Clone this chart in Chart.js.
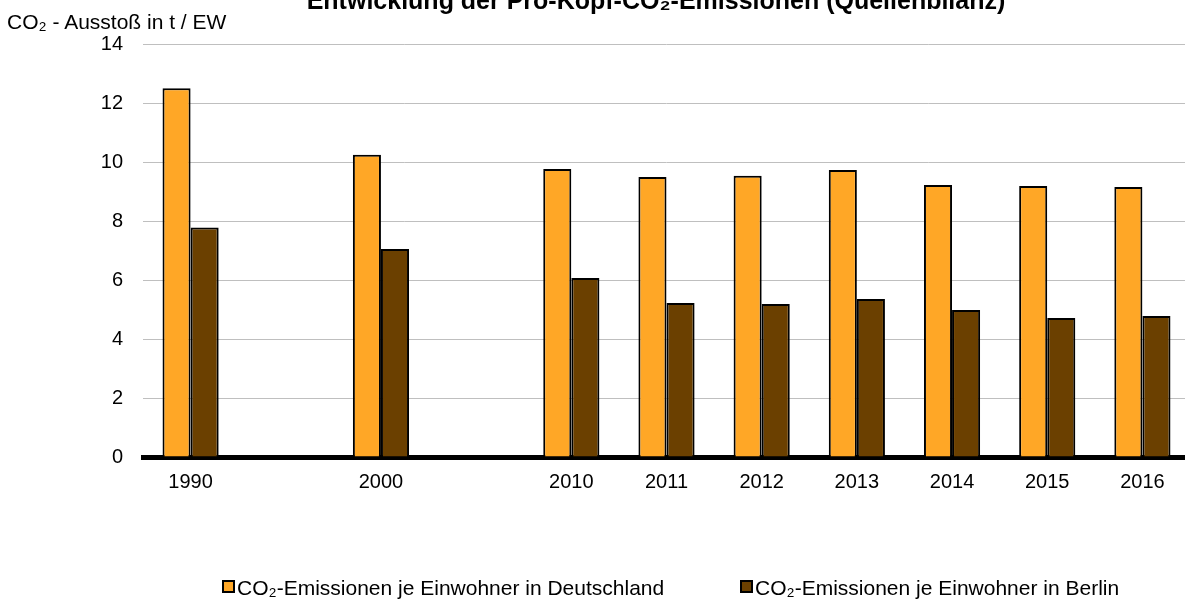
<!DOCTYPE html>
<html>
<head>
<meta charset="utf-8">
<script src="https://cdn.jsdelivr.net/npm/chart.js@4.4.1/dist/chart.umd.min.js"></script>
<style>
    html, body { margin: 0; padding: 0; background: #fff; overflow: hidden; }
    #wrap { position: relative; width: 1185px; height: 603px; overflow: hidden; font-family: "Liberation Sans", Arial, sans-serif; color: #000; }
    #box { position: absolute; left: 0; top: 0; width: 1192px; height: 603px; }
    #title { position: absolute; left: 0; width: 1312px; top: -14px; text-align: center; font-weight: bold; font-size: 25px; white-space: nowrap; }
    #yTitle { position: absolute; left: 7px; top: 10px; font-size: 21px; white-space: nowrap; }
    .leg { position: absolute; top: 576px; font-size: 21px; white-space: nowrap; }
    .leg span.sw { display: inline-block; width: 9px; height: 9px; border: 2px solid #000; margin-right: 2px; vertical-align: 2px; }
</style>
</head>
<body>
<div id="wrap">
    <div id="box"><canvas id="myChart" width="1192" height="603"></canvas></div>
    <div id="title">Entwicklung der Pro-Kopf-CO₂-Emissionen (Quellenbilanz)</div>
    <div id="yTitle">CO₂ - Ausstoß in t / EW</div>
    <div class="leg" style="left:222px"><span class="sw" style="background:#FFA726"></span>CO₂-Emissionen je Einwohner in Deutschland</div>
    <div class="leg" style="left:740px"><span class="sw" style="background:#6B4000"></span>CO₂-Emissionen je Einwohner in Berlin</div>
</div>
<script>
// Jahre (leere Kategorien als Lücken wie im Original)
const years = ['1990', '', '2000', '', '2010', '2011', '2012', '2013', '2014', '2015', '2016'];
const deutschland = [12.5, null, 10.25, null, 9.76, 9.49, 9.53, 9.73, 9.22, 9.19, 9.15];
const berlin = [7.78, null, 7.05, null, 6.07, 5.22, 5.19, 5.36, 4.98, 4.71, 4.78];
const yTicks = [0, 2, 4, 6, 8, 10, 12, 14];
const seriesNames = ['CO₂-Emissionen je Einwohner in Deutschland', 'CO₂-Emissionen je Einwohner in Berlin'];

const data = {
    labels: years,
    datasets: [{
        label: seriesNames[0],
        data: deutschland,
        backgroundColor: '#FFA726',
        borderColor: '#000',
        borderWidth: 2,
        categoryPercentage: 0.59,
        barPercentage: 1
    }, {
        label: seriesNames[1],
        data: berlin,
        backgroundColor: '#6B4000',
        borderColor: '#000',
        borderWidth: 2,
        categoryPercentage: 0.59,
        barPercentage: 1
    }]
};

const config = {
    type: 'bar',
    data: data,
    options: {
        responsive: false,
        animation: false,
        layout: {
            padding: { top: 44, right: 2, bottom: 104, left: 0 }
        },
        scales: {
            x: {
                grid: { display: false },
                border: { color: '#000', width: 5 },
                ticks: {
                    color: '#000',
                    font: { family: 'Liberation Sans', size: 20 },
                    maxRotation: 0,
                    autoSkip: false,
                    padding: 5
                }
            },
            y: {
                min: 0,
                max: 14,
                afterFit: function(scale) { scale.width = 143; },
                afterBuildTicks: function(scale) {
                    scale.ticks = yTicks.map(v => ({ value: v }));
                },
                grid: { color: '#bfbfbf', lineWidth: 1, drawTicks: false },
                border: { display: false },
                ticks: {
                    color: '#000',
                    font: { family: 'Liberation Sans', size: 20 },
                    padding: 20
                }
            }
        },
        plugins: {
            legend: { display: false },
            tooltip: { enabled: false }
        }
    }
};

const myChart = new Chart(document.getElementById('myChart'), config);
</script>
</body>
</html>
